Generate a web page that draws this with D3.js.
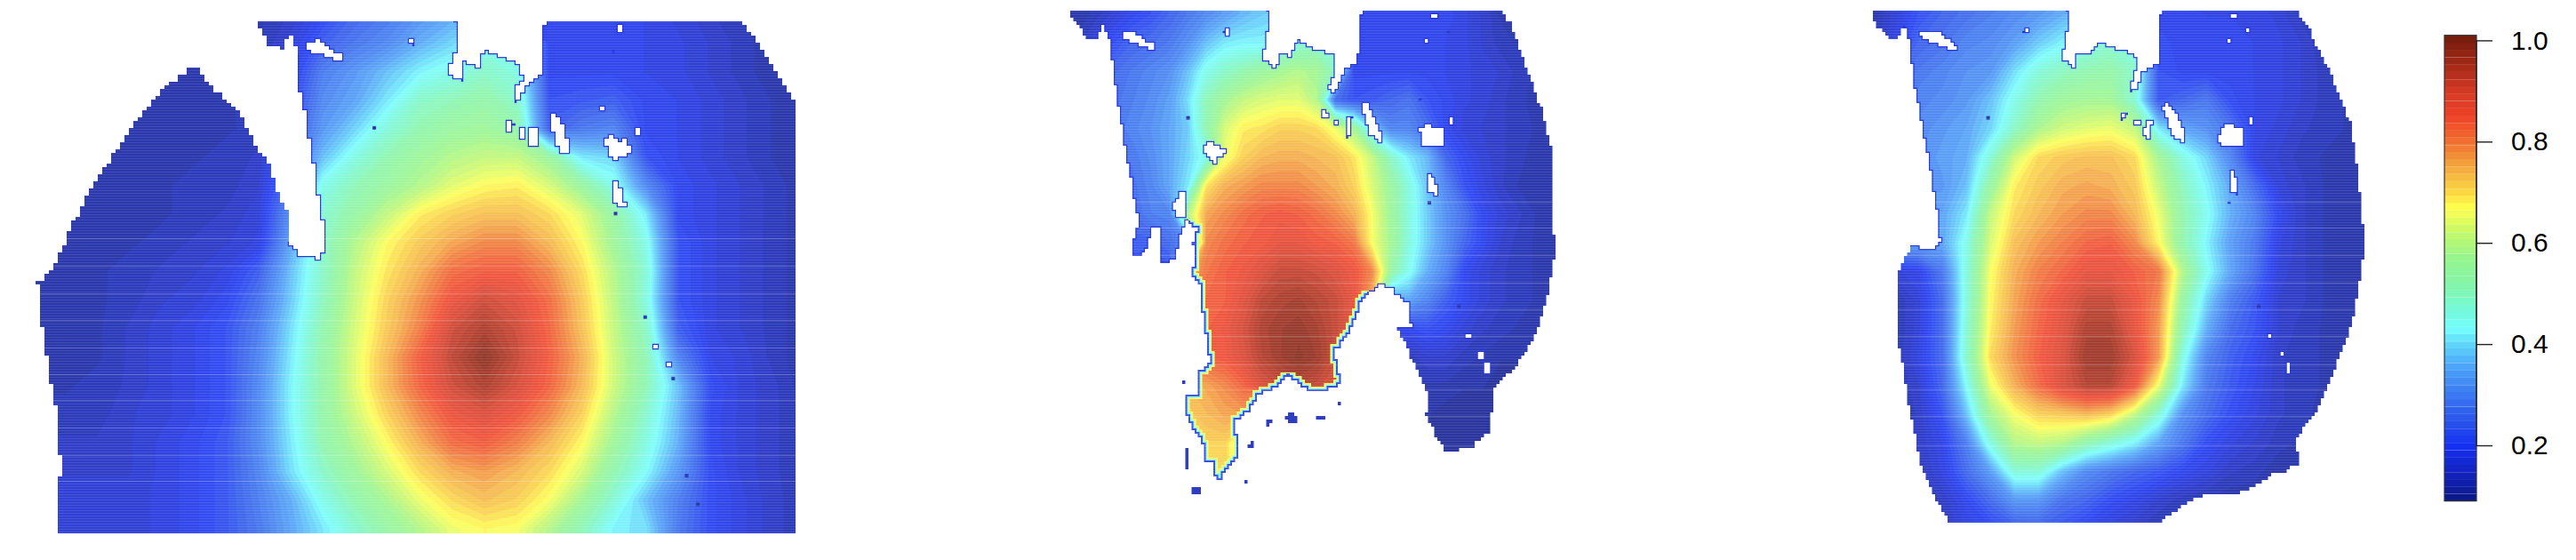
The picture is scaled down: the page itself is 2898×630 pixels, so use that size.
<!DOCTYPE html>
<html><head><meta charset="utf-8">
<style>html,body{margin:0;background:#fff}svg{display:block}</style>
<script src="https://cdn.jsdelivr.net/npm/d3@7/dist/d3.min.js"></script></head>
<body><svg id="c" width="2898" height="630"></svg>
<script>
// Values are percent of the colour-bar scale on a regular map grid.
const colorDomain=[.09,.10,.15,.20,.25,.30,.35,.40,.43,.47,.52,.57,.62,.67,.70,.75,.80,.85,.90,.95,1.01];
const colorRange=["#0a1888","#0c1a8c","#1424c4","#1530f2","#2a55ea","#3a78f0","#4a9ef8","#5fd6fa","#73fdfd","#75f9d8","#85f5a8","#96f58c","#c4f96c","#ffff4d","#fbd844","#f4a83f","#f07030","#ee4228","#d43a26","#a52a17","#721a0d"];
const barTicks=[.2,.4,.6,.8,1];

const p1X=d3.range(60,1501,60);
const p1Y=d3.range(40,1561,80);
const p1Z=[
[13,13,13,13,13,13,13,13,15,20,25,28,32,35,35,20,20,20,20,19,17,15,13,12,12],
[13,13,13,13,13,13,13,13,17,24,28,31,36,40,46,46,20,20,20,19,18,16,14,12,12],
[13,13,13,13,13,13,13,14,18,29,33,38,43,46,50,47,20,20,20,19,18,16,14,12,12],
[13,13,13,13,13,13,13,14,20,31,35,42,50,52,54,50,22,23,24,20,19,17,15,13,12],
[13,13,13,13,13,13,13,14,22,33,40,48,53,56,57,54,24,28,30,20,19,17,15,13,12],
[13,13,13,13,13,13,14,15,25,38,47,53,57,60,62,62,56,42,40,22,19,17,15,13,12],
[13,13,13,13,13,14,14,16,28,46,52,56,60,65,68,69,64,56,46,31,20,18,16,14,12],
[13,13,13,13,13,14,15,17,32,49,55,62,69,72,74,74,71,65,55,42,20,18,16,14,12],
[13,13,13,13,14,15,16,18,35,50,60,68,73,77,80,80,75,68,57,46,22,18,16,14,12],
[13,13,13,14,15,16,18,24,38,50,62,70,76,83,85,85,80,71,60,48,22,18,16,14,12],
[13,13,13,14,16,17,20,27,39,51,63,72,79,87,92,89,83,73,61,47,22,18,16,14,12],
[13,13,13,15,17,19,22,29,41,53,64,73,81,92,96,92,84,74,62,50,24,18,16,14,12],
[13,13,13,15,17,19,22,30,42,54,65,75,85,94,100,93,85,76,63,52,30,19,17,14,12],
[13,13,14,15,17,19,22,31,43,54,65,75,84,92,96,91,84,75,63,52,38,21,17,15,12],
[14,14,14,16,17,19,22,31,43,54,63,72,80,87,90,86,80,72,60,49,37,20,17,15,13],
[15,15,15,16,18,20,23,31,42,53,60,68,76,83,85,81,75,68,57,47,36,20,17,15,13],
[16,16,16,16,18,20,23,30,41,50,57,64,71,76,78,75,71,64,53,44,33,21,17,15,13],
[17,17,17,17,18,20,23,29,36,46,53,59,66,71,74,72,67,58,48,38,29,21,18,15,14],
[17,17,17,17,18,20,23,28,35,42,49,55,60,66,68,67,60,52,43,41,28,21,18,15,14],
[17,17,17,17,18,20,23,28,35,42,49,55,60,66,68,67,60,52,43,41,28,21,18,15,14]];
const p1Coast=[[478,55],[838,55],[846,70],[846,150],[838,175],[835,205],[855,225],[858,190],[862,172],[885,185],[898,142],[930,162],[965,178],[972,225],[960,250],[958,290],[975,240],[1005,205],[1010,70],[1018,55],[1370,55],[1400,110],[1440,200],[1475,290],[1476,1497],[108,1497],[112,1300],[110,1200],[100,1100],[92,1050],[85,970],[75,880],[70,790],[100,745],[130,640],[170,520],[210,430],[250,340],[300,250],[360,180],[390,240],[425,290],[455,345],[480,430],[495,440],[510,520],[535,600],[535,680],[555,715],[590,725],[605,690],[595,580],[580,440],[565,300],[555,245],[556,150],[538,92],[525,135],[500,125],[478,60]];
const p1Rim=[[1,20],[47,56]];
const p1Holes=[
[[572,120],[590,112],[615,145],[635,155],[632,170],[600,150],[572,140]],
[[758,112],[770,105],[770,125]],[[1148,68],[1156,68],[1156,85],[1148,85]],[[1135,142],[1142,142],[1142,152],[1135,152]],
[[1118,303],[1126,303],[1126,308],[1118,308]],[[1180,355],[1186,355],[1186,375],[1180,375]],
[[1125,385],[1135,378],[1145,395],[1165,392],[1170,430],[1145,445],[1128,430]],
[[1020,325],[1030,320],[1045,360],[1060,430],[1040,420],[1030,380]],
[[985,360],[1000,360],[1000,400],[985,410]],[[942,340],[955,350],[945,365]],[[965,360],[975,360],[970,385]],
[[1140,510],[1155,530],[1160,575],[1140,570]],[[1212,962],[1220,962],[1220,975],[1212,975]],[[1238,1018],[1245,1018],[1245,1030],[1238,1030]]];
const p1Specks=[[695,358],[1143,598],[1198,888],[1250,1060],[1296,1412],[1275,1332]];

const p2X=d3.range(100,1501,50);
const p2Y=d3.range(40,1401,80);
const p2Z=[
[12,12,14,17,20,22,25,28,31,34,37,39,40,42,44,30,19,20,20,20,20,20,18,16,13,12,12,12,12],
[14,14,18,22,25,26,28,32,38,42,43,43,45,48,50,48,20,20,20,20,20,19,18,16,14,13,12,12,12],
[20,20,24,26,28,30,32,38,46,50,53,56,58,60,58,50,20,20,20,20,20,19,18,17,16,14,13,12,12],
[26,26,26,27,29,31,34,41,52,58,62,64,65,65,60,26,22,23,25,27,22,20,18,17,15,14,12,12,12],
[28,28,28,28,30,32,35,39,53,64,69,70,72,72,71,66,58,40,30,30,26,20,17,16,15,14,13,12,12],
[28,28,28,28,28,31,35,40,46,66,72,75,76,76,75,74,70,62,50,42,37,25,20,17,15,14,12,12,12],
[27,27,27,27,27,30,35,42,70,76,78,80,80,80,78,76,72,64,56,47,38,30,22,18,15,13,12,12,12],
[26,26,26,26,26,29,30,60,77,80,83,85,86,85,83,80,76,67,57,47,39,32,27,20,17,15,13,12,12],
[24,24,24,24,24,24,26,32,80,83,85,86,88,88,86,85,82,67,58,47,39,32,25,20,16,14,13,12,12],
[22,22,22,22,22,22,22,75,82,85,87,90,93,93,92,90,87,80,55,45,36,30,20,17,15,14,13,12,12],
[80,80,80,80,80,80,80,82,84,85,89,94,96,97,95,93,88,75,35,35,30,24,20,17,15,14,13,12,12],
[80,80,80,80,80,80,80,84,85,87,91,96,98,99,97,93,88,60,20,20,22,20,17,15,14,13,12,12,12],
[80,80,80,80,80,80,80,84,85,86,90,95,98,100,98,93,50,16,14,14,16,16,14,13,12,12,11,11,11],
[75,75,75,75,75,75,75,75,77,80,84,90,93,95,93,90,30,14,13,13,13,13,12,12,11,11,11,11,11],
[73,73,73,73,73,73,73,73,75,77,78,60,30,20,14,13,12,12,12,12,12,11,11,11,11,11,11,11,11],
[72,72,72,72,72,72,72,72,72,72,60,30,14,13,13,12,12,12,12,12,12,11,11,11,11,11,11,11,11],
[72,72,72,72,72,72,72,72,72,72,60,20,13,13,12,12,12,12,12,12,12,11,11,11,11,11,11,11,11],
[72,72,72,72,72,72,72,72,72,72,60,20,13,13,12,12,12,12,12,12,12,11,11,11,11,11,11,11,11]];
const p2Coast=[[134,25],[660,25],[672,40],[665,110],[655,170],[690,190],[695,145],[725,155],[745,112],[790,135],[850,155],[850,200],[835,250],[845,258],[875,190],[910,175],[915,50],[925,25],[1295,25],[1330,80],[1370,200],[1410,310],[1435,420],[1445,720],[1420,860],[1395,940],[1340,1030],[1280,1090],[1270,1210],[1225,1250],[1155,1270],[1130,1230],[1095,1160],[1105,1100],[1080,1050],[1040,960],[1018,918],[1055,910],[1050,850],[1000,805],[975,800],[945,820],[920,850],[905,900],[880,950],[850,985],[855,1030],[868,1075],[810,1100],[760,1085],[725,1050],[690,1090],[640,1105],[620,1150],[580,1185],[585,1280],[555,1320],[540,1345],[525,1345],[515,1290],[490,1305],[490,1240],[445,1160],[445,1110],[480,1100],[480,1040],[510,1010],[490,880],[480,790],[460,770],[470,690],[460,685],[475,640],[450,620],[435,640],[415,730],[378,735],[378,640],[350,640],[340,700],[295,730],[300,680],[315,620],[295,500],[270,350],[250,220],[240,120],[222,70],[205,110],[175,105],[150,65],[134,40]];
const p2Rim=[[1,18],[36,42],[73,90]];
const p2HotStart=41, p2HotEnd=74;
const p2Holes=[
[[500,395],[555,425],[525,455],[495,420]],[[412,570],[425,540],[445,540],[440,610],[415,600]],
[[272,90],[300,85],[335,115],[362,125],[360,140],[320,125],[275,108]],[[545,85],[560,78],[560,95]],
[[920,295],[935,290],[975,380],[975,400],[945,370]],[[1080,360],[1095,350],[1140,362],[1140,410],[1100,410],[1082,390]],
[[1160,325],[1167,325],[1167,350],[1160,350]],[[1095,112],[1105,112],[1105,122],[1095,122]],[[1112,38],[1125,38],[1125,52],[1112,52]],
[[1150,86],[1160,86],[1160,90],[1150,90]],[[1072,274],[1082,274],[1082,278],[1072,278]],
[[1105,485],[1120,510],[1125,545],[1100,530]],[[1205,935],[1222,935],[1222,947],[1205,947]],
[[1240,988],[1252,988],[1252,1002],[1240,1002]],[[1253,1020],[1270,1020],[1270,1045],[1253,1045]],
[[850,335],[860,335],[860,350],[850,350]],[[878,330],[895,330],[885,385],[878,370]],[[815,310],[830,325],[815,330]]];
const p2Islets=[
[[650,1205],[665,1175],[690,1170],[680,1185]],[[610,1250],[630,1225],[625,1255]],[[705,1165],[730,1152],[750,1180],[735,1185]],
[[780,1160],[840,1165],[820,1178]],[[443,1258],[452,1258],[452,1318],[443,1318]],[[460,1360],[480,1365],[482,1388],[460,1382]],
[[420,1075],[440,1062],[442,1080]],[[855,1122],[865,1122],[865,1132],[855,1132]],[[602,1340],[608,1340],[608,1358],[602,1358]],[[435,824],[442,824],[442,830],[435,830]]];
const p2IsletValue=.14;
const p2Specks=[[450,330],[1105,568],[1185,858]];

const p3X=d3.range(100,1151,50);
const p3Y=d3.range(40,1481,80);
const p3Z=[
[12,17,22,25,27,29,31,33,36,38,38,30,20,20,19,19,19,17,14,12,12,12],
[13,18,25,27,30,31,34,39,43,46,49,46,21,20,20,20,19,18,16,13,12,12],
[20,24,28,30,32,33,41,48,51,53,54,50,22,20,20,20,19,18,16,14,12,12],
[26,28,30,31,33,38,46,53,57,58,58,48,23,25,28,21,19,18,16,14,13,12],
[29,30,31,33,35,40,50,59,63,65,66,62,42,35,32,27,19,17,15,14,13,12],
[30,31,32,34,36,48,63,71,73,74,74,71,58,47,40,30,18,16,14,13,12,12],
[33,33,33,33,38,55,69,73,76,77,76,73,62,51,43,35,26,17,15,13,12,12],
[35,35,35,35,42,62,71,75,78,80,80,75,66,53,45,36,30,20,15,13,12,12],
[35,35,35,35,46,64,74,78,81,84,85,80,68,53,43,34,28,18,15,13,12,12],
[17,17,19,28,47,67,76,81,84,88,88,85,82,60,45,35,27,17,15,13,12,12],
[13,13,17,26,47,68,77,83,88,93,93,87,80,55,40,29,23,16,15,13,12,12],
[13,13,17,26,48,69,78,84,89,96,96,88,78,52,36,26,22,16,14,13,12,12],
[13,13,18,26,49,71,79,85,90,98,98,91,78,46,30,24,20,15,14,13,12,12],
[13,13,16,25,44,66,76,83,90,95,95,86,66,42,28,23,19,15,14,13,12,12],
[13,13,15,22,38,58,67,72,73,75,72,62,48,32,26,21,18,15,14,12,12,12],
[13,13,15,19,29,47,60,62,60,53,48,43,35,28,21,18,16,14,13,12,12,12],
[12,12,14,18,26,34,48,48,38,31,28,25,23,20,18,15,14,12,12,12,12,12],
[12,12,13,15,20,26,33,33,27,25,21,19,16,14,13,12,12,12,12,12,12,12],
[12,12,13,14,18,20,23,24,22,19,17,15,13,12,12,12,12,12,12,12,12,12]];
const p3Coast=[[103,25],[505,25],[516,40],[505,130],[500,170],[525,190],[530,145],[555,150],[572,115],[610,135],[652,155],[655,195],[640,255],[650,250],[665,200],[698,175],[702,40],[710,25],[985,25],[1015,90],[1060,220],[1100,350],[1115,500],[1125,640],[1125,730],[1105,900],[1060,1060],[1030,1150],[985,1235],[992,1300],[965,1320],[935,1330],[885,1378],[810,1382],[770,1400],[700,1467],[268,1467],[240,1400],[210,1320],[185,1170],[165,1000],[155,940],[155,785],[165,735],[185,690],[230,695],[245,670],[240,600],[225,470],[205,330],[190,220],[183,120],[172,70],[158,110],[135,100],[115,70],[103,40]];
const p3Rim=[[1,18],[44,53]];
const p3Holes=[
[[205,90],[230,85],[265,115],[280,130],[278,140],[245,125],[208,108]],[[420,80],[430,75],[432,92],[418,92]],
[[708,295],[720,290],[750,365],[752,400],[730,375]],[[828,355],[840,348],[875,360],[875,410],[835,410],[826,385]],
[[850,480],[860,500],[865,545],[848,530]],[[852,38],[862,38],[862,52],[852,52]],[[880,84],[889,84],[889,92],[880,92]],
[[840,114],[847,114],[847,122],[840,122]],[[888,325],[894,325],[894,348],[888,348]],[[925,935],[936,935],[935,948],[925,948]],
[[955,985],[962,985],[962,998],[955,998]],[[965,1020],[972,1020],[972,1045],[965,1045]],
[[622,315],[635,320],[625,335]],[[650,335],[660,335],[660,345],[650,345]],[[675,335],[688,335],[680,385],[670,370]],[[845,565],[852,565],[852,572],[845,572]]];
const p3Specks=[[345,330],[908,858]];

const strongRowsP1=[668,745,822,895,972,1049,1120,1198,1275,1347];
const strongRowsP23=[565,638,715,792,865,940,1020,1090,1165,1248];

const svg=d3.select("#c");
const color=d3.scaleLinear().domain(colorDomain).range(colorRange).clamp(true);
const levels=d3.range(.09,1.01,.92/64);

function stairs(pts,sx,sy,cw,ch,closed){
  const out=[];const list=closed?pts.concat([pts[0]]):pts;
  const snap=(v,s)=>Math.round(v/s)*s;
  let last=null;
  for(let i=0;i<list.length-1;i++){
    const x0=sx(list[i][0]),y0=sy(list[i][1]),x1=sx(list[i+1][0]),y1=sy(list[i+1][1]);
    const n=Math.max(1,Math.ceil(Math.hypot((x1-x0)/cw,(y1-y0)/ch)));
    for(let k=0;k<=n;k++){
      const x=snap(x0+(x1-x0)*k/n,cw),y=snap(y0+(y1-y0)*k/n,ch);
      if(last&&x!==last[0]&&y!==last[1])out.push([x,last[1]]);
      if(!last||x!==last[0]||y!==last[1])out.push([x,y]);
      last=[x,y];
    }
  }
  return out;
}
const lineGen=d3.line();
function panel(id,cfg){
  const sx=d3.scaleLinear().domain([0,1568]).range([cfg.x0,cfg.x0+cfg.w]);
  const sy=d3.scaleLinear().domain([0,1568]).range([0,630]);
  const cx=d3.scaleLinear().domain([.5,cfg.X.length-.5]).range([sx(cfg.X[0]),sx(cfg.X[cfg.X.length-1])]);
  const cy=d3.scaleLinear().domain([.5,cfg.Y.length-.5]).range([sy(cfg.Y[0]),sy(cfg.Y[cfg.Y.length-1])]);
  const g=svg.append("g");
  const coast=lineGen(stairs(cfg.coast,sx,sy,cfg.cw,cfg.ch,true))+"Z";
  const holes=cfg.holes.map(h=>lineGen(stairs(h,sx,sy,cfg.cw,cfg.ch,true))+"Z").join("");
  const seaPath=coast+holes;
  svg.append("clipPath").attr("id",id).append("path").attr("d",seaPath).attr("clip-rule","evenodd");
  const sea=g.append("g").attr("clip-path",`url(#${id})`);
  const flat=cfg.Z.flat().map(v=>v/100);
  const cs=d3.contours().size([cfg.X.length,cfg.Y.length]).thresholds(levels)(flat);
  const proj=d3.geoTransform({point(x,y){this.stream.point(cx(x),cy(y));}});
  const geo=d3.geoPath(proj);
  const wash=sea.append("g").attr("opacity",.88);
  wash.append("rect").attr("x",cfg.x0-20).attr("y",0).attr("width",cfg.w+40).attr("height",630).attr("fill",color(.09));
  wash.selectAll("path.band").data(cs).join("path").attr("class","band").attr("d",geo).attr("fill",d=>color(d.value)).attr("stroke",d=>color(d.value)).attr("stroke-width",.4);
  if(cfg.hot){
    const hot=lineGen(stairs(cfg.coast.slice(cfg.hot[0],cfg.hot[1]),sx,sy,cfg.cw,cfg.ch,false));
    [[10,"#ffff4d"],[7,"#73fdfd"],[4,"#2335d8"]].forEach(([w,c])=>wash.append("path").attr("d",hot).attr("fill","none").attr("stroke",c).attr("stroke-width",w));
  }
  const rimPath=cfg.rim.map(([a,b])=>lineGen(stairs(cfg.coast.slice(a,b),sx,sy,cfg.cw,cfg.ch,false))).join("")+holes;
  sea.append("path").attr("d",rimPath).attr("fill","none").attr("stroke","#2335d8").attr("stroke-width",2.4);
  sea.selectAll("rect.speck").data(cfg.specks).join("rect").attr("class","speck")
    .attr("x",d=>sx(d[0])-2).attr("y",d=>sy(d[1])-2).attr("width",4).attr("height",4).attr("fill","#2a36b0");
  sea.selectAll("line.row").data(d3.range(10,610,3)).join("line").attr("class","row")
    .attr("x1",cfg.x0).attr("x2",cfg.x0+cfg.w).attr("y1",d=>d+.5).attr("y2",d=>d+.5).attr("stroke","#fff").attr("stroke-opacity",.1);
  sea.selectAll("line.strong").data(cfg.strong).join("line").attr("class","strong")
    .attr("x1",cfg.x0).attr("x2",cfg.x0+cfg.w).attr("y1",d=>Math.round(sy(d))+.5).attr("y2",d=>Math.round(sy(d))+.5).attr("stroke","#fff").attr("stroke-opacity",.2);
  if(cfg.islets){
    g.selectAll("path.islet").data(cfg.islets).join("path").attr("class","islet")
      .attr("d",d=>lineGen(stairs(d,sx,sy,cfg.cw,cfg.ch,true))+"Z").attr("fill",color(cfg.isletValue)).attr("opacity",.88);
  }
}
panel("p1",{x0:0,w:950,X:p1X,Y:p1Y,Z:p1Z,coast:p1Coast,rim:p1Rim,holes:p1Holes,specks:p1Specks,strong:strongRowsP1,cw:5,ch:4});
panel("p2",{x0:1150,w:650,X:p2X,Y:p2Y,Z:p2Z,coast:p2Coast,rim:p2Rim,holes:p2Holes,specks:p2Specks,strong:strongRowsP23,cw:3.5,ch:4,hot:[p2HotStart,p2HotEnd],islets:p2Islets,isletValue:p2IsletValue});
panel("p3",{x0:2050,w:848,X:p3X,Y:p3Y,Z:p3Z,coast:p3Coast,rim:p3Rim,holes:p3Holes,specks:p3Specks,strong:strongRowsP23,cw:3.5,ch:4});

// colour bar
const barY=d3.scaleLinear().domain([.2,1]).range([501,45.4]);
const barX0=2750,barX1=2786;
const bar=svg.append("g");
const barLevels=d3.range(.09,1.01,.92/64);
bar.selectAll("rect").data(barLevels).join("rect").attr("x",barX0).attr("width",barX1-barX0)
  .attr("y",d=>barY(d+.92/64)).attr("height",d=>barY(d)-barY(d+.92/64)+.3).attr("fill",d=>color(d+.46/64));
bar.selectAll("line.sep").data(barLevels.filter((d,i)=>i%3==1)).join("line").attr("x1",barX0).attr("x2",barX1)
  .attr("y1",d=>Math.round(barY(d))+.5).attr("y2",d=>Math.round(barY(d))+.5).attr("stroke","#fff").attr("stroke-opacity",.18);
bar.append("rect").attr("x",barX0).attr("y",barY(1.01)).attr("width",barX1-barX0).attr("height",barY(.09)-barY(1.01)).attr("fill","none").attr("stroke","#333").attr("stroke-width",1.2);
const axis=svg.append("g").attr("transform",`translate(${barX1},0)`).call(d3.axisRight(barY).tickValues(barTicks).tickFormat(d3.format(".1f")).tickSize(18).tickPadding(21));
axis.select(".domain").attr("stroke","#222").attr("stroke-width",1.4).attr("d",`M0,${barY(1)}V${barY(.2)}`);
axis.selectAll("line").attr("stroke","#222").attr("stroke-width",1.4);
axis.selectAll("text").attr("font-family","'Liberation Sans',Arial,sans-serif").attr("font-size",30).attr("fill","#000");
</script></body></html>
